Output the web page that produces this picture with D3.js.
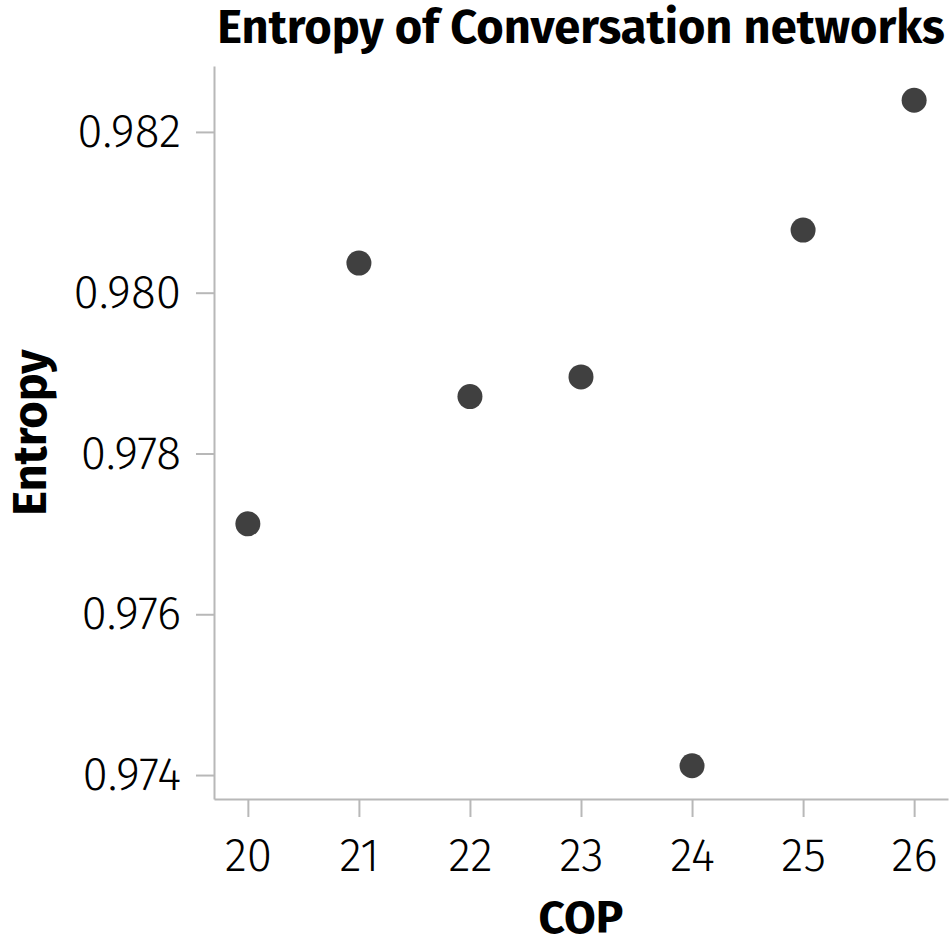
<!DOCTYPE html>
<html>
<head>
<meta charset="utf-8">
<script src="https://cdn.jsdelivr.net/npm/d3@7/dist/d3.min.js"></script>
<style>
  body { margin: 0; background: #fff; }
  svg { display: block; }
</style>
</head>
<body>
<script>
"use strict";

// data
const cop = [20, 21, 22, 23, 24, 25, 26];
const entropy = [0.977125, 0.980369, 0.978708, 0.978952, 0.974116, 0.980779, 0.982394];
const yTicks = [0.974, 0.976, 0.978, 0.98, 0.982];
const xTicks = [20, 21, 22, 23, 24, 25, 26];

//Dimensions
const w = 950;
const h = 940;
const plotLeft = 214;
const plotRight = 948;
const plotTop = 66;
const plotBottom = 799;

const svg = d3.select("body").append("svg").attr("width", w).attr("height", h);

const xScale = d3.scaleLinear().domain([19.695, 26.305]).range([plotLeft, plotRight]);
const yScale = d3.scaleLinear().domain([0.973702, 0.98282]).range([plotBottom, plotTop]);

const axisColor = "#b8b8b8";
const labelFont = "'Fira Sans', 'Open Sans', sans-serif";

//x axis
const xAxis = d3
  .axisBottom(xScale)
  .tickValues(xTicks)
  .tickFormat(d3.format("d"))
  .tickSizeInner(18)
  .tickSizeOuter(0)
  .tickPadding(21);
svg
  .append("g")
  .attr("transform", `translate(0, ${plotBottom})`)
  .call(xAxis)
  .call((g) => g.select(".domain").attr("stroke", axisColor).attr("stroke-width", 2))
  .call((g) => g.selectAll(".tick line").attr("stroke", axisColor).attr("stroke-width", 2))
  .call((g) =>
    g.selectAll(".tick text")
      .attr("fill", "#000")
      .style("font-family", labelFont)
      .style("font-weight", 300)
      .style("font-size", "46px")
  );

//y axis
const yAxis = d3
  .axisLeft(yScale)
  .tickValues(yTicks)
  .tickFormat(d3.format(".3f"))
  .tickSizeInner(18)
  .tickSizeOuter(0)
  .tickPadding(15);
svg
  .append("g")
  .attr("transform", `translate(${plotLeft}, 0)`)
  .call(yAxis)
  .call((g) => g.select(".domain").attr("stroke", axisColor).attr("stroke-width", 2))
  .call((g) => g.selectAll(".tick line").attr("stroke", axisColor).attr("stroke-width", 2))
  .call((g) =>
    g.selectAll(".tick text")
      .attr("fill", "#000")
      .style("font-family", labelFont)
      .style("font-weight", 300)
      .style("font-size", "46px")
  );

//points
svg
  .selectAll("circle")
  .data(cop)
  .enter()
  .append("circle")
  .attr("cx", (d) => xScale(d))
  .attr("cy", (d, i) => yScale(entropy[i]))
  .attr("r", 12.5)
  .attr("fill", "#404040");

//titles
svg
  .append("text")
  .attr("x", (plotLeft + plotRight) / 2)
  .attr("y", 43)
  .attr("text-anchor", "middle")
  .style("font-family", labelFont)
  .style("font-weight", 700)
  .style("font-size", "47px")
  .text("Entropy of Conversation networks");

svg
  .append("text")
  .attr("x", (plotLeft + plotRight) / 2)
  .attr("y", 933)
  .attr("text-anchor", "middle")
  .style("font-family", labelFont)
  .style("font-weight", 700)
  .style("font-size", "46px")
  .text("COP");

svg
  .append("text")
  .attr("transform", `translate(46, ${(plotTop + plotBottom) / 2}) rotate(-90)`)
  .attr("text-anchor", "middle")
  .style("font-family", labelFont)
  .style("font-weight", 700)
  .style("font-size", "47px")
  .text("Entropy");
</script>
</body>
</html>
